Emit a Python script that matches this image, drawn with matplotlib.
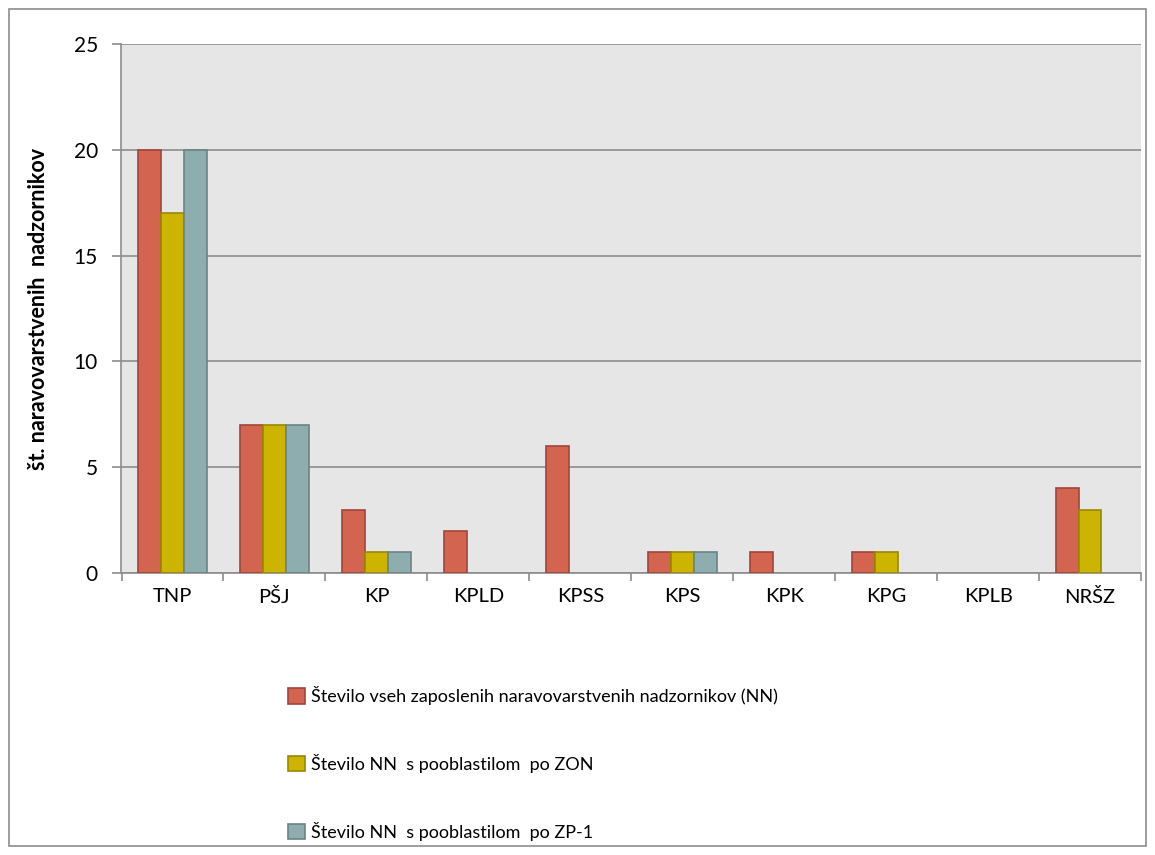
import matplotlib
matplotlib.use("Agg")
import matplotlib.pyplot as plt
import numpy as np
from matplotlib.patches import Rectangle

categories = ["TNP", "PŠJ", "KP", "KPLD", "KPSS", "KPS", "KPK", "KPG", "KPLB", "NRŠZ"]
vsi_nn = [20, 7, 3, 2, 6, 1, 1, 1, 0, 4]
nn_zon = [17, 7, 1, 0, 0, 1, 0, 1, 0, 3]
nn_zp1 = [20, 7, 1, 0, 0, 1, 0, 0, 0, 0]
series_labels = [
    "Število vseh zaposlenih naravovarstvenih nadzornikov (NN)",
    "Število NN  s pooblastilom  po ZON",
    "Število NN  s pooblastilom  po ZP-1",
]
y_label = "št. naravovarstvenih  nadzornikov"

plt.rcParams['font.family'] = ['Lato', 'DejaVu Sans']

fig = plt.figure(figsize=(11.55, 8.55), dpi=100)
W, H = 1155, 855
# outer border
fig.patches.append(Rectangle((9 / W, 1 - 846 / H), (1146 - 9) / W, (846 - 9) / H,
                             transform=fig.transFigure, fill=False, edgecolor="#8c8c8c", lw=1.2))

ax = fig.add_axes([121.5 / W, 1 - 573 / H, (1141 - 121.5) / W, (573 - 44) / H])
ax.set_facecolor("#E6E6E6")

faces = ["#D36450", "#CCB400", "#8EADAE"]
edges = ["#A0453A", "#9A8800", "#6B8485"]
x = np.arange(len(categories))
bw = 0.225
for i, (vals, fc, ec, lab) in enumerate(zip([vsi_nn, nn_zon, nn_zp1], faces, edges, series_labels)):
    bars = ax.bar(x + (i - 1) * bw, vals, width=bw, color=fc, edgecolor=ec, linewidth=1.2,
                  label=lab, zorder=3)
    for b, v in zip(bars, vals):
        if v == 0:
            b.set_visible(False)

ax.set_xlim(-0.5, len(categories) - 0.5)
ax.set_ylim(0, 25)
ax.set_yticks([0, 5, 10, 15, 20, 25])
ax.yaxis.grid(True, color="#8c8c8c", lw=1.2, zorder=1)
ax.set_axisbelow(True)
for s in ["top", "right"]:
    ax.spines[s].set_visible(False)
for s in ["left", "bottom"]:
    ax.spines[s].set_color("#8c8c8c")
    ax.spines[s].set_linewidth(1.2)

ax.set_xticks(x)
ax.set_xticklabels(categories, fontsize=14.5)
ax.tick_params(axis="x", length=0, pad=11)
ax.set_xticks(np.arange(-0.5, len(categories)), minor=True)
ax.tick_params(axis="x", which="minor", length=6, color="#8c8c8c", width=1.2)
ax.tick_params(axis="y", labelsize=15, length=6.5, color="#8c8c8c", width=1.2, pad=10.5)
ax.set_ylabel(y_label, fontsize=15.5, fontweight="bold", labelpad=18)

handles, labels = ax.get_legend_handles_labels()
fig.legend(handles, labels, loc="upper left", bbox_to_anchor=(288 / W, 1 - 686 / H),
           frameon=False, fontsize=13, handlelength=0.95, handleheight=0.95,
           handletextpad=0.3, labelspacing=2.7, borderaxespad=0, borderpad=0)

fig.savefig("out.png", dpi=100)
